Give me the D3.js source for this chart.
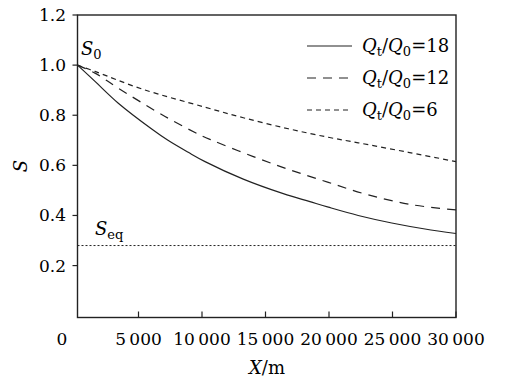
<!DOCTYPE html>
<html>
<head>
<meta charset="utf-8">
<script src="https://cdn.jsdelivr.net/npm/d3@7"></script>
<style>
body { margin: 0; background: #fff; }
</style>
</head>
<body>
<div id="chart"></div>
<script>
// distance along x (m) and S for each ratio
var x_ratio18 = [200, 1575, 3410, 6040, 7320, 8920, 10240, 13250, 16400, 18500, 19950, 22300, 24940, 27560, 30000];
var s_ratio18 = [1.0, 0.935, 0.848, 0.745, 0.700, 0.652, 0.615, 0.545, 0.487, 0.455, 0.433, 0.400, 0.370, 0.346, 0.328];

var x_ratio12 = [200, 1575, 3410, 7090, 9970, 10900, 14040, 16930, 19950, 23100, 26640, 30000];
var s_ratio12 = [1.0, 0.968, 0.908, 0.795, 0.718, 0.698, 0.635, 0.582, 0.532, 0.482, 0.442, 0.422];

var x_ratio6 = [200, 1575, 5250, 10240, 13250, 16800, 19950, 22300, 26250, 30000];
var s_ratio6 = [1.0, 0.975, 0.905, 0.832, 0.790, 0.746, 0.712, 0.690, 0.652, 0.615];

var s_eq = 0.28;
var x_ticks = [5000, 10000, 15000, 20000, 25000, 30000];
var y_ticks = [0.2, 0.4, 0.6, 0.8, 1.0, 1.2];
var legend_labels = ['18', '12', '6'];

var width = 510, height = 384;
var plot_left = 77.5, plot_right = 456, plot_top = 15, plot_bottom = 317.5;
var font = 'DejaVu Serif, Liberation Serif, serif';

var x = d3.scaleLinear().domain([0, 30000]).range([75, plot_right]);
var y = d3.scaleLinear().domain([0, 1.2]).range([315.7, plot_top]);

var svg = d3.select('#chart')
	.append('svg')
	.attr('width', width)
	.attr('height', height)
	.style('font-family', font);

// frame
svg.append('rect')
	.attr('x', plot_left)
	.attr('y', plot_top)
	.attr('width', plot_right - plot_left)
	.attr('height', plot_bottom - plot_top)
	.attr('fill', 'none')
	.attr('stroke', '#222')
	.attr('stroke-width', 1.4);

// x ticks point inward
svg.selectAll('.xtick')
	.data(x_ticks)
	.enter()
	.append('line')
	.attr('x1', function(d) { return x(d); })
	.attr('x2', function(d) { return x(d); })
	.attr('y1', plot_bottom)
	.attr('y2', plot_bottom - 6)
	.attr('stroke', '#222')
	.attr('stroke-width', 1.2);

svg.selectAll('.xlabel')
	.data(x_ticks)
	.enter()
	.append('text')
	.attr('x', function(d) { return x(d); })
	.attr('y', 345)
	.attr('text-anchor', 'middle')
	.attr('font-size', 17)
	.text(function(d) { return d3.format(',')(d).replace(',', '\u2009'); });

svg.append('text')
	.attr('x', 62)
	.attr('y', 345)
	.attr('text-anchor', 'middle')
	.attr('font-size', 17)
	.text('0');

// y ticks point outward
svg.selectAll('.ytick')
	.data(y_ticks)
	.enter()
	.append('line')
	.attr('x1', plot_left - 5)
	.attr('x2', plot_left)
	.attr('y1', function(d) { return y(d); })
	.attr('y2', function(d) { return y(d); })
	.attr('stroke', '#222')
	.attr('stroke-width', 1.2);

svg.selectAll('.ylabel')
	.data(y_ticks)
	.enter()
	.append('text')
	.attr('x', 66)
	.attr('y', function(d) { return y(d) + 6; })
	.attr('text-anchor', 'end')
	.attr('font-size', 17)
	.text(function(d) { return d3.format('.1f')(d); });

// axis titles
var xt = svg.append('text')
	.attr('x', 267)
	.attr('y', 374)
	.attr('text-anchor', 'middle')
	.attr('font-size', 18);
xt.append('tspan').attr('font-style', 'italic').text('X');
xt.append('tspan').text('/m');

svg.append('text')
	.attr('transform', 'translate(27,166) rotate(-90)')
	.attr('text-anchor', 'middle')
	.attr('font-size', 18)
	.attr('font-style', 'italic')
	.text('S');

// curves
var line = d3.line()
	.x(function(d) { return x(d[0]); })
	.y(function(d) { return y(d[1]); })
	.curve(d3.curveCatmullRom.alpha(0.5));

var series = [
	{xs: x_ratio18, ys: s_ratio18, dash: null},
	{xs: x_ratio12, ys: s_ratio12, dash: '9,7'},
	{xs: x_ratio6, ys: s_ratio6, dash: '5,4'}
];

series.forEach(function(s) {
	svg.append('path')
		.datum(d3.zip(s.xs, s.ys))
		.attr('d', line)
		.attr('fill', 'none')
		.attr('stroke', '#222')
		.attr('stroke-width', 1.2)
		.attr('stroke-dasharray', s.dash);
});

// equilibrium line
svg.append('line')
	.attr('x1', plot_left)
	.attr('x2', plot_right)
	.attr('y1', y(s_eq))
	.attr('y2', y(s_eq))
	.attr('stroke', '#222')
	.attr('stroke-width', 1)
	.attr('stroke-dasharray', '2,2');

function subLabel(tx, ty, main, sub) {
	var t = svg.append('text')
		.attr('x', tx)
		.attr('y', ty)
		.attr('font-size', 18);
	t.append('tspan').attr('font-style', 'italic').text(main);
	t.append('tspan').attr('font-size', 13).attr('dy', 4).text(sub);
}

subLabel(81, 55, 'S', '0');
subLabel(95, 235, 'S', 'eq');

// legend
series.forEach(function(s, i) {
	var ly = 46 + i * 32;
	svg.append('line')
		.attr('x1', 307)
		.attr('x2', 352)
		.attr('y1', ly)
		.attr('y2', ly)
		.attr('stroke', '#222')
		.attr('stroke-width', 1.2)
		.attr('stroke-dasharray', s.dash);

	var t = svg.append('text')
		.attr('x', 362)
		.attr('y', ly + 6)
		.attr('font-size', 18);
	t.append('tspan').attr('font-style', 'italic').text('Q');
	t.append('tspan').attr('font-size', 13).attr('dy', 4).text('t');
	t.append('tspan').attr('dy', -4).text('/');
	t.append('tspan').attr('font-style', 'italic').text('Q');
	t.append('tspan').attr('font-size', 13).attr('dy', 4).text('0');
	t.append('tspan').attr('dy', -4).text('=' + legend_labels[i]);
});
</script>
</body>
</html>
